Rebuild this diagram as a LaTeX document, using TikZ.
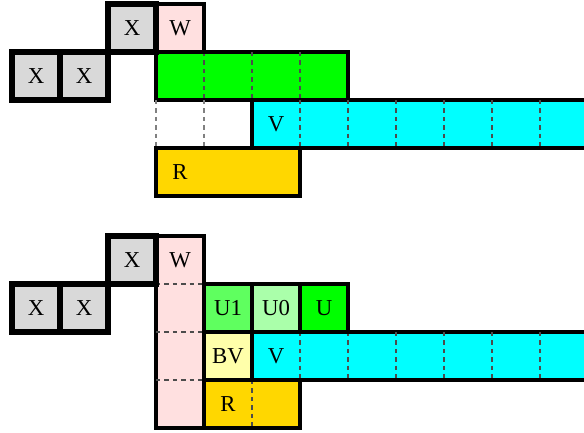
\documentclass[tikz,border=0pt]{standalone}
\usepackage{fontspec}
\setmainfont{Liberation Serif}
\definecolor{wpink}{RGB}{255,224,224}
\definecolor{xgray}{RGB}{217,217,217}
\definecolor{ugreen}{RGB}{0,255,0}
\definecolor{uone}{RGB}{95,255,95}
\definecolor{uzero}{RGB}{170,255,170}
\definecolor{bvyellow}{RGB}{255,255,170}
\definecolor{vcyan}{RGB}{0,255,255}
\definecolor{rgold}{RGB}{255,215,0}
\begin{document}
\begin{tikzpicture}[auto,
    xbox/.style ={rectangle, draw, line width=3.5pt, fill=xgray, minimum size=1cm, inner sep=0pt},
    cell/.style ={rectangle, draw, line width=2.6pt, minimum size=1cm, inner sep=0pt},
    bar/.style ={draw, line width=2.6pt},
    sep/.style ={black!70, dash pattern=on 2.5pt off 2.5pt, line width=0.8pt},
    gap/.style ={gray, dash pattern=on 2.5pt off 2.5pt, line width=0.8pt},
    every node/.style ={font=\fontsize{13.5pt}{15pt}\selectfont}]
   \useasboundingbox (-0.25,0.0833) rectangle (11.9167,-8.9167);
   \clip (-0.25,0.0833) rectangle (11.9167,-8.9167);
   % upper layout
   \draw[bar, fill=ugreen] (3,-1) rectangle (7,-2);
   \draw[sep] (4,-1) -- (4,-2) (5,-1) -- (5,-2) (6,-1) -- (6,-2);
   \draw[gap] (3,-2) -- (3,-3) (4,-2) -- (4,-3);
   \draw[bar, fill=vcyan] (5,-2) rectangle (12.5,-3);
   \draw[sep] (6,-2) -- (6,-3) (7,-2) -- (7,-3) (8,-2) -- (8,-3)
              (9,-2) -- (9,-3) (10,-2) -- (10,-3) (11,-2) -- (11,-3);
   \node (va) at (5.5,-2.5) {V};
   \draw[bar, fill=rgold] (3,-3) rectangle (6,-4);
   \node (ra) at (3.5,-3.5) {R};
   \node[cell, fill=wpink] (wa) at (3.5,-0.5) {W};
   \node[xbox] (xa) at (2.5,-0.5) {X};
   \node[xbox] (xb) at (0.5,-1.5) {X};
   \node[xbox] (xc) at (1.5,-1.5) {X};
   % lower layout
   \begin{scope}[yshift=-4.8333cm]
   \draw[bar, fill=wpink] (3,0) rectangle (4,-4);
   \draw[sep] (3,-1) -- (4,-1) (3,-2) -- (4,-2) (3,-3) -- (4,-3);
   \node (wb) at (3.5,-0.5) {W};
   \draw[bar, fill=vcyan] (5,-2) rectangle (12.5,-3);
   \draw[sep] (6,-2) -- (6,-3) (7,-2) -- (7,-3) (8,-2) -- (8,-3)
              (9,-2) -- (9,-3) (10,-2) -- (10,-3) (11,-2) -- (11,-3);
   \node (vb) at (5.5,-2.5) {V};
   \draw[bar, fill=rgold] (4,-3) rectangle (6,-4);
   \draw[sep] (5,-3) -- (5,-4);
   \node (rb) at (4.5,-3.5) {R};
   \node[cell, fill=uone] (u1) at (4.5,-1.5) {U1};
   \node[cell, fill=uzero] (u0) at (5.5,-1.5) {U0};
   \node[cell, fill=ugreen] (u) at (6.5,-1.5) {U};
   \node[cell, fill=bvyellow] (bv) at (4.5,-2.5) {BV};
   \node[xbox] (xd) at (2.5,-0.5) {X};
   \node[xbox] (xe) at (0.5,-1.5) {X};
   \node[xbox] (xf) at (1.5,-1.5) {X};
   \end{scope}
\end{tikzpicture}
\end{document}
